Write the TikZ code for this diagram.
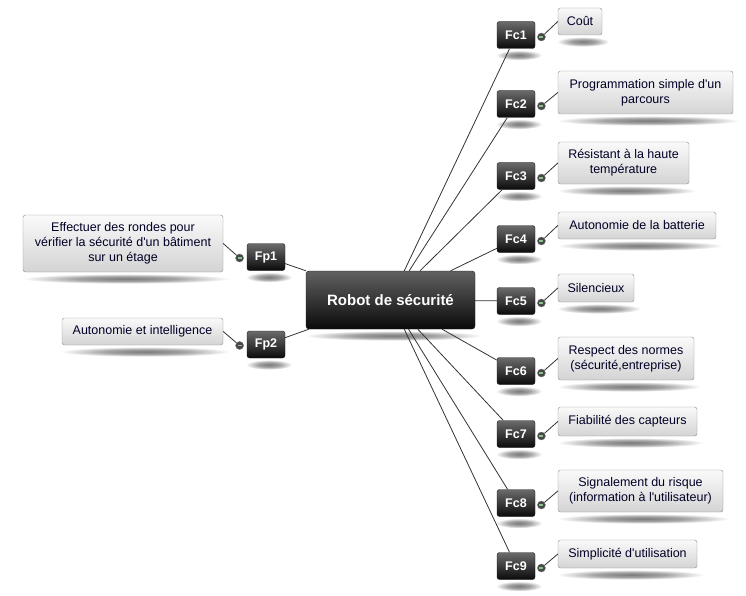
\documentclass[tikz,border=0pt]{standalone}
\usepackage{fontspec}
\setmainfont{Liberation Sans}
\usetikzlibrary{positioning,backgrounds,calc}
\pgfdeclareradialshading{boxshade}{\pgfpoint{0bp}{0bp}}{color(0bp)=(black!52); color(12bp)=(black!36); color(25bp)=(white); color(50bp)=(white)}

\begin{document}
\begin{tikzpicture}[
  x=1pt, y=-1pt,
  font=\fontsize{12.5}{15}\selectfont,
  hubbox/.style={
    draw=black!90,
    rounded corners=3pt,
    top color=black!62,
    bottom color=black!96,
    text=white,
    font=\fontsize{15}{18}\selectfont\bfseries,
    minimum width=169pt,
    minimum height=58pt
  },
  tagbox/.style={
    draw=black!90,
    rounded corners=2.5pt,
    top color=black!58,
    bottom color=black!96,
    text=white,
    font=\fontsize{12.5}{14}\selectfont\bfseries,
    minimum width=38pt,
    minimum height=27pt,
    inner sep=1pt
  },
  note/.style={
    draw=black!45,
    rounded corners=2.5pt,
    top color=black!2,
    bottom color=black!17,
    text=black!85!blue,
    align=center,
    inner sep=2pt
  },
  knob/.style={
    circle,
    draw=black!55,
    fill=black!72,
    minimum size=8pt,
    inner sep=0pt,
    path picture={\draw[green!45!black!45!white, line width=1.3pt]
      ([xshift=-2pt]path picture bounding box.center) --
      ([xshift=2pt]path picture bounding box.center);}
  },
  link/.style={draw=black!80, line width=0.8pt}
]
  \useasboundingbox (0,0) rectangle (746,596);

  % centre
  \node[hubbox] (hub) at (390.5,300) {Robot de sécurité};

  % fonctions principales
  \node[tagbox] (fp1) at (266,257) {Fp1};
  \node[tagbox] (fp2) at (266,344.5) {Fp2};
  \node[knob, left=3pt of fp1, yshift=-1pt] (kp1) {};
  \node[knob, left=3pt of fp2, yshift=-1pt] (kp2) {};
  \node[note, minimum width=200pt, minimum height=57pt] (tp1) at (123,243.5)
    {Effectuer des rondes pour\\vérifier la sécurité d\textquotesingle un bâtiment\\sur un étage};
  \node[note, minimum width=161pt, minimum height=27pt] (tp2) at (142.5,331.5)
    {Autonomie et intelligence};

  % fonctions contraintes
  \node[tagbox] (fc1) at (516,35) {Fc1};
  \node[tagbox] (fc2) at (516,104) {Fc2};
  \node[tagbox] (fc3) at (516,176) {Fc3};
  \node[tagbox] (fc4) at (516,239) {Fc4};
  \node[tagbox] (fc5) at (516,301) {Fc5};
  \node[tagbox] (fc6) at (516,371) {Fc6};
  \node[tagbox] (fc7) at (516,434) {Fc7};
  \node[tagbox] (fc8) at (516,503) {Fc8};
  \node[tagbox] (fc9) at (516,566) {Fc9};

  \node[knob, right=2pt of fc1, yshift=-2pt] (kc1) {};
  \node[knob, right=2pt of fc2, yshift=-2pt] (kc2) {};
  \node[knob, right=2pt of fc3, yshift=-2pt] (kc3) {};
  \node[knob, right=2pt of fc4, yshift=-2pt] (kc4) {};
  \node[knob, right=2pt of fc5, yshift=-2pt] (kc5) {};
  \node[knob, right=2pt of fc6, yshift=-2pt] (kc6) {};
  \node[knob, right=2pt of fc7, yshift=-2pt] (kc7) {};
  \node[knob, right=2pt of fc8, yshift=-2pt] (kc8) {};
  \node[knob, right=2pt of fc9, yshift=-2pt] (kc9) {};

  \node[note, minimum width=44pt, minimum height=27pt] (tc1) at (580,21.5) {Coût};
  \node[note, minimum width=175pt, minimum height=43pt] (tc2) at (645.5,92.5)
    {Programmation simple d\textquotesingle un\\parcours};
  \node[note, minimum width=131pt, minimum height=42pt] (tc3) at (623.5,163)
    {Résistant à la haute\\température};
  \node[note, minimum width=158pt, minimum height=27pt] (tc4) at (637,225.5)
    {Autonomie de la batterie};
  \node[note, minimum width=76pt, minimum height=28pt] (tc5) at (596,288) {Silencieux};
  \node[note, minimum width=136pt, minimum height=43pt] (tc6) at (626,358.5)
    {Respect des normes\\(sécurité,entreprise)};
  \node[note, minimum width=139pt, minimum height=29pt] (tc7) at (627.5,421.5)
    {Fiabilité des capteurs};
  \node[note, minimum width=165pt, minimum height=42pt] (tc8) at (640.5,491)
    {Signalement du risque\\(information à l\textquotesingle utilisateur)};
  \node[note, minimum width=139pt, minimum height=28pt] (tc9) at (627.5,554)
    {Simplicité d\textquotesingle utilisation};

  % ombres
  \begin{scope}[on background layer]
    \foreach \nd in {hub,fp1,fp2,tp1,tp2,fc1,fc2,fc3,fc4,fc5,fc6,fc7,fc8,fc9,
                     tc1,tc2,tc3,tc4,tc5,tc6,tc7,tc8,tc9}
      \shade[shading=boxshade] let \p1=(\nd.south west), \p2=(\nd.south east) in
        ({(\x1+\x2)/2+3pt},{\y1-6.5pt}) ellipse [x radius={(\x2-\x1)/2+4pt}, y radius=5pt];
  \end{scope}

  \draw[link] (hub) -- (fp1);
  \draw[link] (hub) -- (fp2);
  \draw[link] (kp1) -- (tp1.east);
  \draw[link] (kp2) -- (tp2.east);

  \draw[link] (hub) -- (fc1);
  \draw[link] (hub) -- (fc2);
  \draw[link] (hub) -- (fc3);
  \draw[link] (hub) -- (fc4);
  \draw[link] (hub) -- (fc5);
  \draw[link] (hub) -- (fc6);
  \draw[link] (hub) -- (fc7);
  \draw[link] (hub) -- (fc8);
  \draw[link] (hub) -- (fc9);

  \draw[link] (kc1) -- (tc1.west);
  \draw[link] (kc2) -- (tc2.west);
  \draw[link] (kc3) -- (tc3.west);
  \draw[link] (kc4) -- (tc4.west);
  \draw[link] (kc5) -- (tc5.west);
  \draw[link] (kc6) -- (tc6.west);
  \draw[link] (kc7) -- (tc7.west);
  \draw[link] (kc8) -- (tc8.west);
  \draw[link] (kc9) -- (tc9.west);
\end{tikzpicture}
\end{document}
